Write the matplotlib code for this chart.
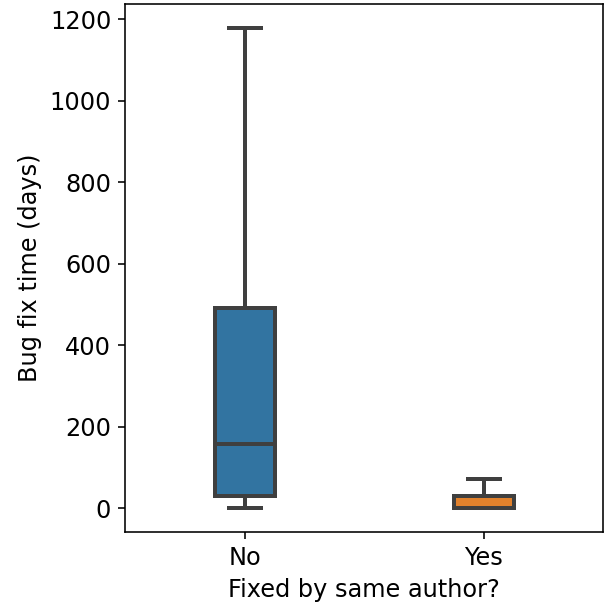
import matplotlib
matplotlib.use("Agg")
import matplotlib.pyplot as plt

# valores (dias)
categorias = ["No", "Yes"]
q1 = [29, 0]
mediana = [157, 0]
q3 = [492, 30]
bigote_inf = [0, 0]
bigote_sup = [1178, 71]
colores = ["#3274a1", "#e1812c"]

plt.rcParams["font.size"] = 12

fig = plt.figure(figsize=(605 / 144, 606 / 144), dpi=144)
ax = fig.add_axes([0.207, 0.122, 0.79, 0.871])

stats = []
for i, cat in enumerate(categorias):
    stats.append(dict(label=cat, q1=q1[i], med=mediana[i], q3=q3[i],
                      whislo=bigote_inf[i], whishi=bigote_sup[i], fliers=[]))

linea = dict(color="#3f3f3f", linewidth=2.0)
bp = ax.bxp(stats, positions=range(len(categorias)), widths=0.25,
            capwidths=0.135, patch_artist=True, showfliers=False,
            boxprops=linea, whiskerprops=linea, capprops=linea,
            medianprops=linea)
for caja, c in zip(bp["boxes"], colores):
    caja.set_facecolor(c)

ax.set_xlim(-0.5, 1.5)
ax.set_ylim(-59, 1237)
ax.set_yticks([0, 200, 400, 600, 800, 1000, 1200])
ax.set_xticks(range(len(categorias)))
ax.set_xticklabels(categorias)
ax.set_xlabel("Fixed by same author?")
ax.set_ylabel("Bug fix time (days)")

fig.savefig("out.png", dpi=144)
